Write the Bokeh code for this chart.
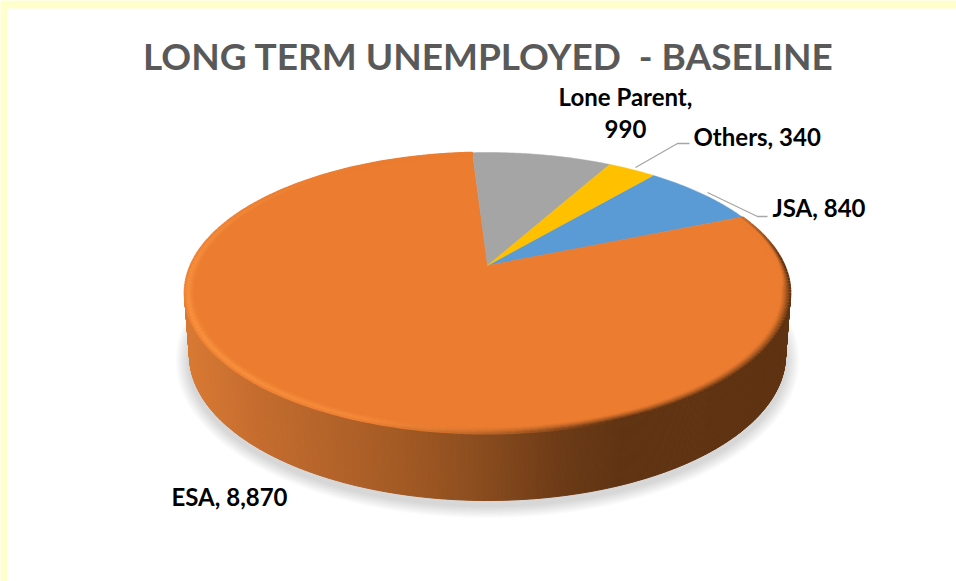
import math
from bokeh.plotting import figure
from bokeh.models import Range1d
from bokeh.core.properties import value
from bokeh.embed import file_html
from bokeh.resources import INLINE

# Long-term unemployed by benefit group, clockwise from the JSA slice
categories = ["JSA", "ESA", "Lone Parent", "Others"]
counts = [840, 8870, 990, 340]
slice_colors = ["#5B9BD5", "#EB7C30", "#A5A5A5", "#FFC000"]
title_text = "LONG TERM UNEMPLOYED \u00a0- BASELINE"

W, H = 956, 581
FRAME = "#FFFFCC"

# Tilted disc: a unit circle pushed through a perspective projection
APEX_X, APEX_Y = 487, 265
PERSP = 0.1957
SCALE_X = 297
SCALE_Y = -83.25
START_ANGLE = 67.3  # clockwise from 12 o'clock, where the JSA slice ends

# Front wall geometry: lower rim ellipse against the top rim ellipse
TOP_CY, TOP_RX, TOP_RY = 292.5, 303.0, 140.5
BOT_CY, BOT_RX, BOT_RY = 355.0, 298.0, 145.0


def project(theta_deg, s=1.0):
    t = math.radians(theta_deg)
    u, v = s * math.sin(t), s * math.cos(t)
    d = 1 + PERSP * v
    return APEX_X + SCALE_X * u / d, (APEX_Y + SCALE_Y * v) / d


def hex_rgb(c):
    return tuple(int(c[i:i + 2], 16) for i in (1, 3, 5))


def mix(a, b, w):
    ra, rb = hex_rgb(a), hex_rgb(b)
    return "#%02x%02x%02x" % tuple(round(x + (y - x) * w) for x, y in zip(ra, rb))


def ramp(stops, x):
    if x <= stops[0][0]:
        return stops[0][1]
    for (x0, c0), (x1, c1) in zip(stops, stops[1:]):
        if x <= x1:
            return mix(c0, c1, (x - x0) / (x1 - x0))
    return stops[-1][1]


def clamp01(x):
    return max(0.0, min(1.0, x))


p = figure(width=W, height=H, x_range=Range1d(0, W), y_range=Range1d(H, 0),
           output_backend="svg", toolbar_location=None, min_border=0,
           background_fill_color=FRAME, border_fill_color=FRAME)
p.axis.visible = False
p.grid.visible = False
p.outline_line_color = None

# Chart area inside the pale frame
p.quad(left=[7], right=[W], top=[8], bottom=[H], fill_color="white", line_color=None)

# Soft drop shadow under the disc
for d in range(14, 0, -1):
    xs = [APEX_X + (BOT_RX + d) * math.cos(math.radians(a)) for a in range(0, 360, 2)]
    ys = [BOT_CY + 5 + (BOT_RY + d * 0.9) * math.sin(math.radians(a)) for a in range(0, 360, 2)]
    p.patch(xs, ys, fill_color="#8c8c8c", fill_alpha=0.028, line_color=None)

# Front wall, shaded in narrow strips from left to right
wall_stops = [(184, "#D97A34"), (250, "#C66D2F"), (400, "#A35A24"), (480, "#8A4C1E"),
              (560, "#6C3A16"), (620, "#603413"), (791, "#5F3312")]
STEPS = 420
wx, wy, wc = [], [], []
for i in range(STEPS):
    a0 = math.pi * i / STEPS
    a1 = math.pi * (i + 1) / STEPS
    tx0, ty0 = APEX_X + TOP_RX * math.cos(a0), TOP_CY + TOP_RY * math.sin(a0)
    tx1, ty1 = APEX_X + TOP_RX * math.cos(a1), TOP_CY + TOP_RY * math.sin(a1)
    bx0, by0 = APEX_X + BOT_RX * math.cos(a0), BOT_CY + BOT_RY * math.sin(a0)
    bx1, by1 = APEX_X + BOT_RX * math.cos(a1), BOT_CY + BOT_RY * math.sin(a1)
    wx.append([tx0, tx1, bx1, bx0])
    wy.append([ty0, ty1, by1, by0])
    wc.append(ramp(wall_stops, (tx0 + tx1) / 2))
p.patches(wx, wy, fill_color=wc, line_color=wc, line_width=1)

# Slices of the top face, swept clockwise from the values
total = sum(counts)
angle = START_ANGLE - 360 * counts[0] / total
sweeps = []
sx, sy = [], []
for n in counts:
    sweep = 360 * n / total
    sweeps.append((angle, angle + sweep))
    steps = max(2, int(sweep * 2))
    pts = [project(angle + sweep * k / steps) for k in range(steps + 1)]
    sx.append([APEX_X] + [q[0] for q in pts])
    sy.append([APEX_Y] + [q[1] for q in pts])
    angle += sweep
p.patches(sx, sy, fill_color=slice_colors, line_color=slice_colors, line_width=0.5)

# Bevel along the rim of the large slice: lit lower left, blending into the
# wall colour towards the lower right
base = slice_colors[1]
LIGHT = "#F8913F"
light_profile = [0.35, 0.8, 1.0, 0.8, 0.5, 0.25, 0.1]
RING_STEP = 0.005
a0, a1 = sweeps[1]
for ring in range(len(light_profile) - 1, -1, -1):
    s = 1 - RING_STEP * ring
    seg_x, seg_y, seg_c = [], [], []
    for k in range(240):
        b0 = a0 + (a1 - a0) * k / 240
        b1 = a0 + (a1 - a0) * (k + 1) / 240
        mid = (b0 + b1) / 2
        lit = clamp01(math.cos(math.radians(mid - 245))) ** 1.5
        # The shaded edge starts as a hairline and widens towards the front
        reach = 1 + 2.2 * clamp01((100 - mid) / 30)
        dark_w = clamp01(1 - ring * reach / 6) ** 1.3
        dark_w *= clamp01((mid - 62) / 25) * clamp01((200 - mid) / 40)
        q0, q1 = project(b0, s), project(b1, s)
        wall = ramp(wall_stops, (q0[0] + q1[0]) / 2)
        col = mix(mix(base, LIGHT, lit * light_profile[ring]), wall, dark_w)
        seg_x.append([q0[0], q1[0]])
        seg_y.append([q0[1], q1[1]])
        seg_c.append(col)
    p.multi_line(seg_x, seg_y, line_color=seg_c, line_width=2.0)

# Leader lines from the two small outer labels
p.line([707, 757, 767], [192, 216, 216], line_color="#A6A6A6", line_width=1.3)
p.line([635, 677, 689], [167, 143, 143], line_color="#A6A6A6", line_width=1.3)

FONT = value("Lato")
p.text(x=[488], y=[55], text=[title_text], text_font=FONT, text_font_style="bold",
       text_font_size="37px", text_color="#595959", text_align="center", text_baseline="middle")

label_text = {c: f"{c}, {n:,}" for c, n in zip(categories, counts)}
label_text["Lone Parent"] = f"Lone Parent,\n{counts[2]:,}"
lx = [772, 171, 625, 693]
ly = [207, 496, 112, 136]
la = ["left", "left", "center", "left"]
p.text(x=lx, y=ly, text=[label_text[c] for c in categories], text_font=FONT,
       text_font_style="bold", text_font_size="24px", text_color="black",
       text_align=la, text_baseline="middle", text_line_height=1.13)

open("out.html", "w").write(file_html(p, INLINE))
